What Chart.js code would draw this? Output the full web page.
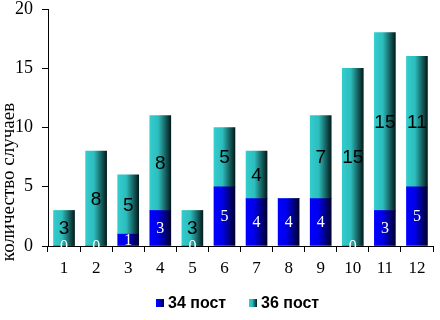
<!DOCTYPE html>
<html><head><meta charset="utf-8">
<script src="https://cdn.jsdelivr.net/npm/chart.js@4/dist/chart.umd.min.js"></script>
<style>html,body{margin:0;padding:0;background:#fff}#c{display:block}</style>
</head><body>
<canvas id="c" width="440" height="320"></canvas>
<script>
const categories = ['1','2','3','4','5','6','7','8','9','10','11','12'];
const post34 = [0,0,1,3,0,5,4,4,4,0,3,5];
const post36 = [3,8,5,8,3,5,4,0,7,15,15,11];
const seriesNames = ['34 пост','36 пост'];
const yTicks = [0,5,10,15,20];
const yTitle = 'количество случаев';

const BAR_W = 21;
const stops = {
  blue: [[0,'#0000FF'],[0.4,'#0000E8'],[1,'#000030']],
  teal: [[0,'#33CCCC'],[0.4,'#2DBDBD'],[1,'#041C1C']]
};
function grad(ctx, x0, x1, s){
  const g = ctx.createLinearGradient(x0,0,x1,0);
  s.forEach(([o,c])=>g.addColorStop(o,c));
  return g;
}
function barColor(key){
  return (c)=>{
    const chart = c.chart;
    if (!chart.chartArea || c.dataIndex === undefined) return stops[key][0][1];
    const x = chart.scales.x.getPixelForValue(c.dataIndex);
    return grad(chart.ctx, x - BAR_W/2, x + BAR_W/2, stops[key]);
  };
}

const labelPlugin = {
  id:'labels',
  afterDatasetsDraw(chart){
    const ctx = chart.ctx;
    ctx.save();
    ctx.textAlign='center'; ctx.textBaseline='middle';
    chart.data.datasets.forEach((ds,di)=>{
      const meta = chart.getDatasetMeta(di);
      meta.data.forEach((el,i)=>{
        const v = ds.data[i];
        if (di===1 && v===0) return;
        const y = (el.y + el.base)/2;
        if (di===0){ ctx.fillStyle='#fff'; ctx.font='16px "Liberation Serif", "Times New Roman", serif'; }
        else { ctx.fillStyle='#000'; ctx.font='19px "Liberation Sans", Arial, sans-serif'; }
        ctx.fillText(String(v), el.x, y+1);
      });
    });
    ctx.restore();
  },
  afterDraw(chart){
    const ctx = chart.ctx;
    ctx.save();
    ctx.translate(9, 182);
    ctx.rotate(-Math.PI/2);
    ctx.fillStyle='#000';
    ctx.font='19px "Liberation Serif", "Times New Roman", serif';
    ctx.textAlign='center'; ctx.textBaseline='middle';
    ctx.fillText(yTitle, 0, 0);
    ctx.restore();
    ctx.save();
    ctx.font='bold 16px "Liberation Sans", Arial, sans-serif';
    ctx.textBaseline='middle'; ctx.textAlign='left';
    const items = [{x:156, key:'blue'},{x:249, key:'teal'}];
    items.forEach((it,i)=>{
      ctx.fillStyle = grad(ctx, it.x, it.x+8, stops[it.key]);
      ctx.fillRect(it.x, 299, 8, 8);
      ctx.fillStyle='#000';
      ctx.fillText(seriesNames[i], it.x+12, 304);
    });
    ctx.restore();
  }
};

new Chart(document.getElementById('c'), {
  type:'bar',
  data:{
    labels: categories,
    datasets:[
      {label: seriesNames[0], data: post34, backgroundColor: barColor('blue'), barThickness: BAR_W},
      {label: seriesNames[1], data: post36, backgroundColor: barColor('teal'), barThickness: BAR_W}
    ]
  },
  options:{
    responsive:false, devicePixelRatio:1, animation:false,
    layout:{padding:{top:0,right:7,left:0,bottom:0}},
    plugins:{legend:{display:false}, tooltip:{enabled:false}},
    scales:{
      x:{
        stacked:true,
        grid:{drawOnChartArea:false, drawTicks:true, tickLength:6, tickColor:'#000', offset:true},
        border:{display:true, color:'#000', width:1},
        ticks:{color:'#000', padding:6, maxRotation:0, font:{family:'"Liberation Serif", "Times New Roman", serif', size:17}},
        afterFit(s){ s.height = 74; s.paddingLeft = 0; s.paddingRight = 0; }
      },
      y:{
        stacked:true, min:0, max:20,
        afterBuildTicks(s){ s.ticks = yTicks.map(v=>({value:v})); },
        grid:{drawOnChartArea:false, drawTicks:true, tickLength:6, tickColor:'#000'},
        border:{display:true, color:'#000', width:1},
        ticks:{color:'#000', padding:9, font:{family:'"Liberation Serif", "Times New Roman", serif', size:18}},
        afterFit(s){ s.width = 48; s.paddingTop = 9; s.paddingBottom = 0; }
      }
    }
  },
  plugins:[labelPlugin]
});
</script>
</body></html>
